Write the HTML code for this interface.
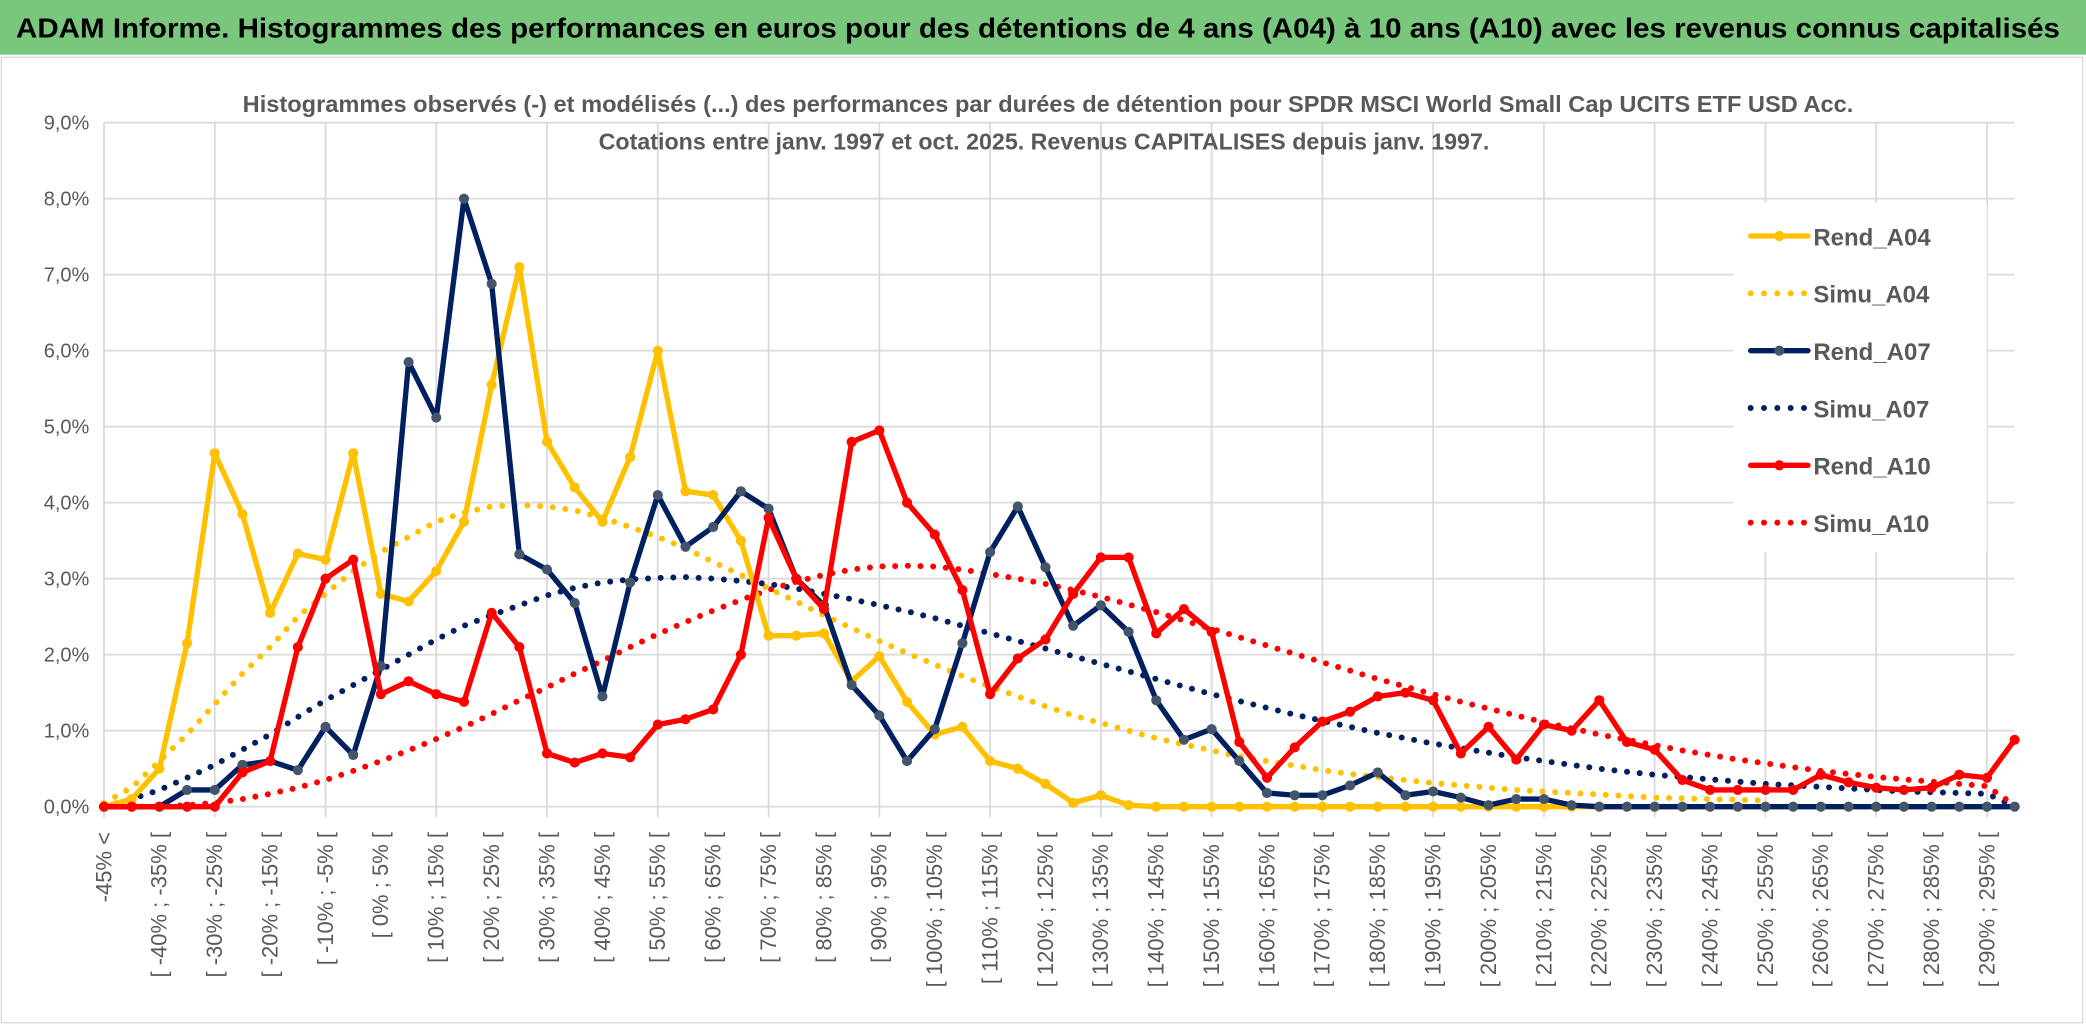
<!DOCTYPE html>
<html><head><meta charset="utf-8"><style>
html,body{margin:0;padding:0;background:#fff;}
svg{display:block;}
text{font-family:"Liberation Sans",sans-serif;}
</style></head><body>
<svg id="chart" width="2086" height="1033" viewBox="0 0 1564.5 774.75" xmlns="http://www.w3.org/2000/svg">
<rect x="0" y="0" width="1564.5" height="774.75" fill="#fff"/>
<rect x="0" y="0" width="1564.5" height="41" fill="#79c77d"/>
<text x="12" y="28" font-size="21" font-weight="bold" fill="#000" textLength="1533" lengthAdjust="spacingAndGlyphs">ADAM Informe. Histogrammes des performances en euros pour des détentions de 4 ans (A04) à 10 ans (A10) avec les revenus connus capitalisés</text>
<rect x="1" y="43" width="1561" height="724" fill="none" stroke="#d9d9d9" stroke-width="1"/>
<g id="grid"></g>
<text x="786" y="84" font-size="17" fill="#595959" text-anchor="middle" textLength="1208" lengthAdjust="spacingAndGlyphs" font-weight="bold">Histogrammes observés (-) et modélisés (...) des performances par durées de détention pour SPDR MSCI World Small Cap UCITS ETF USD Acc.</text>
<text x="783" y="112" font-size="17" fill="#595959" text-anchor="middle" textLength="668" lengthAdjust="spacingAndGlyphs" font-weight="bold">Cotations entre janv. 1997 et oct. 2025. Revenus CAPITALISES depuis janv. 1997.</text>
<g id="yaxis"></g>
<g id="xaxis"></g>
<g id="series"></g>
<g id="legend"></g>
</svg>
<script>
const rendA04 = [0,0.1,0.5,2.15,4.65,3.85,2.55,3.33,3.25,4.65,2.8,2.7,3.1,3.75,5.55,7.1,4.8,4.2,3.75,4.6,6.0,4.15,4.1,3.5,2.25,2.25,2.28,1.65,1.98,1.38,0.95,1.05,0.6,0.5,0.3,0.05,0.15,0.02,0,0,0,0,0,0,0,0,0,0,0,0,0,0,0,0,0,0,0,0,0,0,0,0,0,0,0,0,0,0,0,0];
const simuA04 = [0.05,0.25,0.6,0.95,1.35,1.75,2.1,2.5,2.8,3.1,3.35,3.55,3.75,3.87,3.95,3.97,3.95,3.9,3.8,3.68,3.55,3.4,3.22,3.05,2.87,2.7,2.52,2.35,2.18,2.02,1.87,1.72,1.58,1.45,1.32,1.2,1.1,1.0,0.9,0.82,0.74,0.66,0.6,0.54,0.48,0.43,0.39,0.35,0.31,0.28,0.25,0.22,0.2,0.18,0.16,0.14,0.12,0.11,0.1,0.09,0.08];
const rendA07 = [0,0,0,0.22,0.22,0.55,0.6,0.48,1.05,0.68,1.85,5.85,5.12,8.0,6.88,3.32,3.12,2.68,1.45,2.95,4.1,3.42,3.68,4.15,3.92,3.0,2.65,1.6,1.2,0.6,1.02,2.15,3.35,3.95,3.15,2.38,2.65,2.3,1.4,0.88,1.02,0.6,0.18,0.15,0.15,0.28,0.45,0.15,0.2,0.12,0.02,0.1,0.1,0.02,0,0,0,0,0,0,0,0,0,0,0,0,0,0,0,0];
const simuA07 = [0,0.1,0.22,0.38,0.55,0.75,0.95,1.18,1.4,1.6,1.8,2.0,2.2,2.38,2.52,2.65,2.78,2.88,2.95,2.99,3.01,3.02,3.0,2.97,2.93,2.87,2.8,2.73,2.65,2.57,2.48,2.38,2.28,2.18,2.08,1.98,1.88,1.78,1.68,1.58,1.48,1.39,1.3,1.21,1.13,1.05,0.97,0.9,0.83,0.77,0.71,0.65,0.6,0.55,0.5,0.46,0.42,0.39,0.36,0.33,0.3,0.28,0.26,0.24,0.22,0.2,0.19,0.18,0.17,0.0];
const rendA10 = [0,0,0,0,0,0.45,0.6,2.1,3.0,3.25,1.48,1.65,1.48,1.38,2.55,2.1,0.7,0.58,0.7,0.65,1.08,1.15,1.28,2.0,3.8,3.0,2.6,4.8,4.95,4.0,3.58,2.85,1.48,1.95,2.2,2.8,3.28,3.28,2.28,2.6,2.3,0.85,0.38,0.78,1.12,1.25,1.45,1.5,1.4,0.7,1.05,0.62,1.08,1.0,1.4,0.85,0.75,0.35,0.22,0.22,0.22,0.22,0.42,0.32,0.25,0.22,0.25,0.42,0.38,0.88];
const simuA10 = [0,0,0,0.02,0.05,0.1,0.17,0.25,0.35,0.47,0.6,0.74,0.89,1.05,1.22,1.4,1.57,1.75,1.92,2.1,2.27,2.43,2.58,2.72,2.85,2.96,3.05,3.12,3.16,3.17,3.16,3.12,3.06,3.0,2.93,2.85,2.76,2.66,2.56,2.45,2.34,2.23,2.12,2.01,1.9,1.79,1.68,1.58,1.48,1.38,1.29,1.2,1.11,1.03,0.95,0.88,0.81,0.74,0.68,0.62,0.57,0.52,0.47,0.43,0.39,0.36,0.33,0.3,0.27,0.02];
const yTicks = ["0,0%","1,0%","2,0%","3,0%","4,0%","5,0%","6,0%","7,0%","8,0%","9,0%"];
const legendNames = ["Rend_A04","Simu_A04","Rend_A07","Simu_A07","Rend_A10","Simu_A10"];
const categories = ["-45% <"];
for (let k = 1; k < 70; k++) { const a = -45 + 5*(k-1); categories.push("[ " + a + "% ; " + (a+5) + "% ["); }

const NS = "http://www.w3.org/2000/svg";
const X0 = 78, X1 = 1511, Y0 = 605, YTOP = 92, YMAX = 9;
function xs(i){ return X0 + (X1 - X0) * i / (categories.length - 1); }
function ys(v){ return Y0 - (Y0 - YTOP) * v / YMAX; }
function mk(tag, attrs, parent){ const e = document.createElementNS(NS, tag); for (const k in attrs) e.setAttribute(k, attrs[k]); parent.appendChild(e); return e; }

const grid = document.getElementById('grid');
for (let t = 0; t < yTicks.length; t++) {
  const l = mk('line', {x1: X0, x2: X1, y1: ys(t), y2: ys(t), stroke: '#d9d9d9', 'stroke-width': 1.3}, grid);
  
  
}
for (let i = 0; i < categories.length; i += 4) {
  const l = mk('line', {x1: xs(i), x2: xs(i), y1: ys(9), y2: Y0 + 8, stroke: '#d9d9d9', 'stroke-width': 1.3}, grid);
  
  
}
const yaxis = document.getElementById('yaxis');
for (let t = 0; t < yTicks.length; t++) {
  const tx = mk('text', {x: 67, y: ys(t) + 5, 'font-size': 15, fill: '#595959', 'text-anchor': 'end'}, yaxis);
  tx.textContent = yTicks[t];
  
  
}
const xaxis = document.getElementById('xaxis');
for (let i = 0; i < categories.length; i += 2) {
  const x = xs(i) + 5.5, y = 624;
  const tx = mk('text', {x: x, y: y, 'font-size': 16.5, fill: '#595959', 'text-anchor': 'end', transform: 'rotate(-90 ' + x + ' ' + y + ')'}, xaxis);
  tx.textContent = categories[i];
  
  
}

const series = document.getElementById('series');
function pts(arr){ return arr.map((v,i) => xs(i).toFixed(2) + ',' + ys(v).toFixed(2)).join(' '); }
function dotted(arr, color, name){
  const p = mk('polyline', {points: pts(arr), fill: 'none', stroke: color, 'stroke-width': 4.5, 'stroke-linecap': 'round', 'stroke-dasharray': '0 9.5'}, series);
  
  
}
function solid(arr, color, mcolor, name){
  const g = mk('g', {}, series);
  
  
  mk('polyline', {points: pts(arr), fill: 'none', stroke: color, 'stroke-width': 4, 'stroke-linejoin': 'round'}, g);
  arr.forEach((v,i) => {
    const c = mk('circle', {cx: xs(i), cy: ys(v), r: 3.8, fill: mcolor}, g);
    
    
  });
}
dotted(simuA04, '#ffc000', 'simu-a04-line');
dotted(simuA07, '#002060', 'simu-a07-line');
dotted(simuA10, '#ff0000', 'simu-a10-line');
solid(rendA04, '#ffc000', '#ffc000', 'rend-a04-line');
solid(rendA07, '#002060', '#44546a', 'rend-a07-line');
solid(rendA10, '#ff0000', '#ff0000', 'rend-a10-line');

const legend = document.getElementById('legend');
const bg = mk('rect', {x: 1300, y: 152, width: 190, height: 262, fill: '#fff'}, legend);


const lcolors = ['#ffc000','#ffc000','#002060','#002060','#ff0000','#ff0000'];
const mcolors = ['#ffc000',null,'#44546a',null,'#ff0000',null];
for (let k = 0; k < legendNames.length; k++) {
  const y = 177 + k * 43;
  const g = mk('g', {}, legend);
  
  
  if (mcolors[k]) {
    mk('line', {x1: 1313, x2: 1356, y1: y, y2: y, stroke: lcolors[k], 'stroke-width': 4, 'stroke-linecap': 'round'}, g);
    mk('circle', {cx: 1334.5, cy: y, r: 3.8, fill: mcolors[k]}, g);
  } else {
    mk('line', {x1: 1313, x2: 1356, y1: y, y2: y, stroke: lcolors[k], 'stroke-width': 4.5, 'stroke-linecap': 'round', 'stroke-dasharray': '0 10'}, g);
  }
  const tx = mk('text', {x: 1360, y: y + 7, 'font-size': 18, fill: '#595959', 'font-weight': 'bold'}, g);
  tx.textContent = legendNames[k];
}
</script>
</body></html>
